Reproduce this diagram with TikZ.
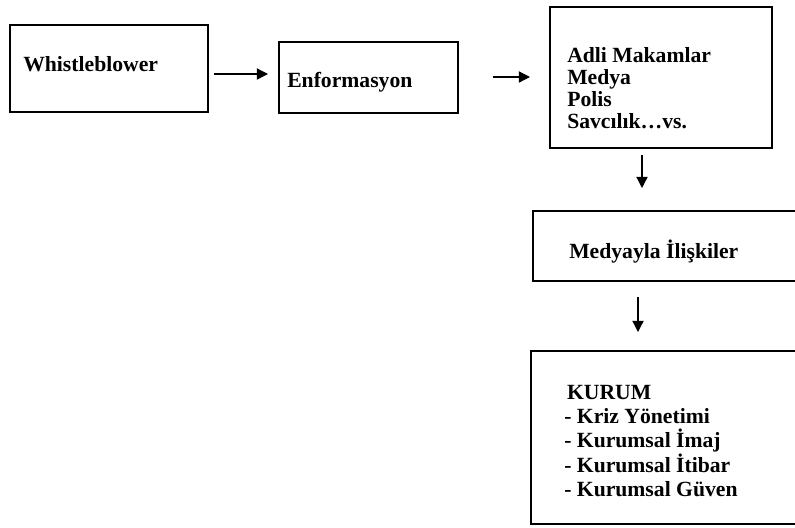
\documentclass[tikz,border=0pt]{standalone}
\usepackage{fontspec}
\setmainfont{Liberation Serif}
\usetikzlibrary{arrows.meta, positioning}

\begin{document}
\begin{tikzpicture}[x=0.025cm, y=-0.025cm]
        \tikzstyle{box}=[draw, line width=0.9pt, inner sep=0pt]
        \tikzstyle{txt}=[anchor=west, inner sep=0pt, align=left, font=\fontsize{15.4}{15.6}\selectfont\bfseries]
        \tikzstyle{arr}=[line width=0.9pt, -{Triangle[length=8pt, width=8pt]}]

        \useasboundingbox (0,0) rectangle (795,527);

        % Boxes
        \node[box, minimum width=4.95cm, minimum height=2.175cm] (whistle) at (109,68.5) {};
        \node[box, minimum width=4.475cm, minimum height=1.775cm] (enf) at (368.5,77.5) {};
        \node[box, minimum width=5.55cm, minimum height=3.525cm] (adli) at (661,77.5) {};
        \node[box, minimum width=7.175cm, minimum height=1.75cm] (medya) at (676.5,246) {};
        \node[box, minimum width=7.225cm, minimum height=4.325cm] (kurum) at (675.5,437.5) {};

        % Texts
        \node[txt] (whistle_t) at (23,64) {Whistleblower};
        \node[txt] (enf_t) at (287,82) {Enformasyon};
        \node[txt, font=\fontsize{15.4}{15.8}\selectfont\bfseries] (adli_t) at (567,88) {Adli Makamlar\\Medya\\Polis\\Savcılık…vs.};
        \node[txt] (medya_t) at (569,252) {Medyayla İlişkiler};
        \node[txt, font=\fontsize{15.4}{17.4}\selectfont\bfseries] (kurum_t) at (564,441) {\hspace*{2pt}KURUM\\- Kriz Yönetimi\\- Kurumsal İmaj\\- Kurumsal İtibar\\- Kurumsal Güven};

        % Arrow ends
        \coordinate (a1s) at (214,74);  \coordinate (a1e) at (268,74);
        \coordinate (a2s) at (493,77);  \coordinate (a2e) at (530,77);
        \coordinate (a3s) at (642,155); \coordinate (a3e) at (642,188);
        \coordinate (a4s) at (638,297); \coordinate (a4e) at (638,332);

        % Arrows
        \draw[arr] (a1s) -- (a1e);
        \draw[arr] (a2s) -- (a2e);
        \draw[arr] (a3s) -- (a3e);
        \draw[arr] (a4s) -- (a4e);
\end{tikzpicture}
\end{document}
